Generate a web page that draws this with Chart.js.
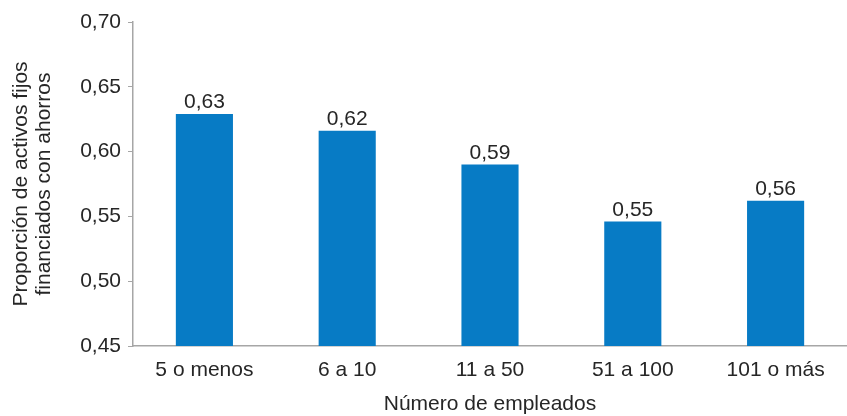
<!DOCTYPE html>
<html lang="es">
<head>
<meta charset="UTF-8">
<title>Proporción de activos fijos financiados con ahorros</title>
<script src="https://cdn.jsdelivr.net/npm/chart.js"></script>
<style>
    html, body {
        margin: 0;
        padding: 0;
        background: #ffffff;
    }
    .chart-box {
        position: relative;
        width: 847px;
        height: 416px;
    }
</style>
</head>
<body>
<div class="chart-box">
    <canvas id="ahorrosChart"></canvas>
</div>
<script>
    // data
    const categories = ['5 o menos', '6 a 10', '11 a 50', '51 a 100', '101 o más'];
    const shares = [0.629, 0.616, 0.590, 0.546, 0.562];
    const yTicks = [0.45, 0.50, 0.55, 0.60, 0.65, 0.70];

    const fontFamily = "'Liberation Sans Narrow', 'Arial Narrow', 'Liberation Sans', Arial, sans-serif";
    const textColor = '#262626';
    const axisColor = '#a6a6a6';

    const commaNum = (v) => v.toFixed(2).replace('.', ',');

    // value labels above the bars
    const valueLabels = {
        id: 'valueLabels',
        afterDatasetsDraw(chart) {
            const ctx = chart.ctx;
            const meta = chart.getDatasetMeta(0);
            ctx.save();
            ctx.font = '21px ' + fontFamily;
            ctx.fillStyle = textColor;
            ctx.textAlign = 'center';
            ctx.textBaseline = 'alphabetic';
            meta.data.forEach((bar, i) => {
                ctx.fillText(commaNum(shares[i]), bar.x, bar.y - 6);
            });
            ctx.restore();
        }
    };

    const ctx = document.getElementById('ahorrosChart').getContext('2d');
    new Chart(ctx, {
        type: 'bar',
        data: {
            labels: categories,
            datasets: [{
                data: shares,
                backgroundColor: '#077bc5',
                borderWidth: 0,
                barPercentage: 0.4,
                categoryPercentage: 1.0
            }]
        },
        options: {
            responsive: true,
            maintainAspectRatio: false,
            animation: false,
            layout: {
                padding: { top: 22, right: 0, bottom: 0, left: 0 }
            },
            plugins: {
                legend: { display: false },
                tooltip: { enabled: false }
            },
            scales: {
                x: {
                    afterFit: (scale) => { scale.height = 70; },
                    grid: { display: false, drawTicks: false },
                    border: { display: true, color: axisColor, width: 1.5 },
                    ticks: {
                        color: textColor,
                        padding: 12,
                        maxRotation: 0,
                        font: { family: fontFamily, size: 21 }
                    },
                    title: {
                        display: true,
                        text: 'Número de empleados',
                        color: textColor,
                        padding: { top: 0, bottom: 0 },
                        font: { family: fontFamily, size: 21, lineHeight: 1.1 }
                    }
                },
                y: {
                    min: 0.45,
                    max: 0.70,
                    afterFit: (scale) => { scale.width = 133; },
                    afterBuildTicks: (scale) => {
                        scale.ticks = yTicks.map(v => ({ value: v }));
                    },
                    grid: {
                        display: true,
                        drawOnChartArea: false,
                        drawTicks: true,
                        tickLength: 5,
                        color: axisColor
                    },
                    border: { display: true, color: axisColor, width: 1.5 },
                    ticks: {
                        color: textColor,
                        padding: 7,
                        font: { family: fontFamily, size: 21 },
                        callback: (v) => commaNum(v)
                    },
                    title: {
                        display: true,
                        text: ['Proporción de activos fijos', 'financiados con ahorros'],
                        color: textColor,
                        padding: { top: 10, bottom: 0 },
                        font: { family: fontFamily, size: 21, lineHeight: 1.1 }
                    }
                }
            }
        },
        plugins: [valueLabels]
    });
</script>
</body>
</html>
